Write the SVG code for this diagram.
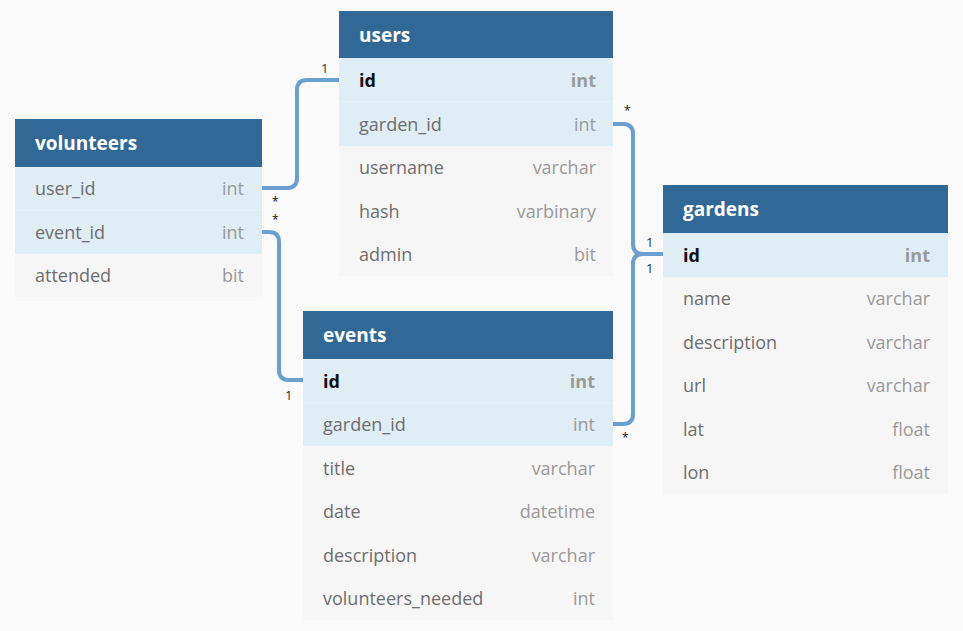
<svg xmlns="http://www.w3.org/2000/svg" width="963" height="631" viewBox="0 0 963 631">
<style>
.bg{fill:#fafafa}
.hd{fill:#316896}
.pk{fill:#dfedf5}
.rw{fill:#f6f6f6}
.sep{stroke:#eaf2f7;stroke-width:1}
.tt{font-family:"Open Sans","Noto Sans",sans-serif;font-size:19px;font-weight:bold;fill:#ffffff}
.fn{font-family:"Open Sans","Noto Sans",sans-serif;font-size:18px;fill:#6e6e6e}
.fnb{font-family:"Open Sans","Noto Sans",sans-serif;font-size:18px;font-weight:bold;fill:#111111}
.ty{font-family:"Open Sans","Noto Sans",sans-serif;font-size:18px;fill:#9a9a9a;text-anchor:end}
.tyb{font-family:"Open Sans","Noto Sans",sans-serif;font-size:18px;font-weight:bold;fill:#9a9a9a;text-anchor:end}
.cn{fill:none;stroke:#6a9fcf;stroke-width:4}
.lb{font-family:"Open Sans","Noto Sans",sans-serif;font-size:13px;fill:#1f2f3f}
.st{font-family:"Open Sans","Noto Sans",sans-serif;font-size:12px;fill:#111111}
</style>
<rect class="bg" x="0" y="0" width="963" height="631"/>

<g id="connectors">
<path class="cn" d="M262,188 H287 Q297,188 297,178 V90 Q297,80 307,80 H339"/>
<path class="cn" d="M262,232 H269 Q279,232 279,242 V370 Q279,380 289,380 H303"/>
<path class="cn" d="M613,124 H623 Q633,124 633,134 V244 Q633,254 643,254 H663"/>
<path class="cn" d="M612,424 H623 Q633,424 633,414 V264 Q633,254 643,254"/>
<text class="lb" x="321" y="73">1</text>
<text class="st" x="272" y="206">*</text>
<text class="st" x="272" y="224">*</text>
<text class="lb" x="285" y="400">1</text>
<text class="st" x="624" y="115">*</text>
<text class="lb" x="646" y="247">1</text>
<text class="lb" x="646" y="273">1</text>
<text class="st" x="622" y="442">*</text>
</g>

<g id="users">
<rect class="hd" x="339" y="11" width="274" height="47"/>
<text class="tt" x="359" y="42">users</text>
<rect class="pk" x="339" y="58" width="274" height="88"/>
<rect class="rw" x="339" y="146" width="274" height="130"/>
<line class="sep" x1="339" y1="102" x2="613" y2="102"/>
<text class="fnb" x="359" y="87">id</text><text class="tyb" x="596" y="87">int</text>
<text class="fn" x="359" y="131">garden_id</text><text class="ty" x="596" y="131">int</text>
<text class="fn" x="359" y="174">username</text><text class="ty" x="596" y="174">varchar</text>
<text class="fn" x="359" y="218">hash</text><text class="ty" x="596" y="218">varbinary</text>
<text class="fn" x="359" y="261">admin</text><text class="ty" x="596" y="261">bit</text>
</g>

<g id="volunteers">
<rect class="hd" x="15" y="119" width="247" height="48"/>
<text class="tt" x="35" y="150">volunteers</text>
<rect class="pk" x="15" y="167" width="247" height="87"/>
<rect class="rw" x="15" y="254" width="247" height="43"/>
<line class="sep" x1="15" y1="210" x2="262" y2="210"/>
<text class="fn" x="35" y="195">user_id</text><text class="ty" x="244" y="195">int</text>
<text class="fn" x="35" y="239">event_id</text><text class="ty" x="244" y="239">int</text>
<text class="fn" x="35" y="282">attended</text><text class="ty" x="244" y="282">bit</text>
</g>

<g id="gardens">
<rect class="hd" x="663" y="185" width="285" height="48"/>
<text class="tt" x="683" y="216">gardens</text>
<rect class="pk" x="663" y="233" width="285" height="44"/>
<rect class="rw" x="663" y="277" width="285" height="217"/>
<text class="fnb" x="683" y="262">id</text><text class="tyb" x="930" y="262">int</text>
<text class="fn" x="683" y="305">name</text><text class="ty" x="930" y="305">varchar</text>
<text class="fn" x="683" y="349">description</text><text class="ty" x="930" y="349">varchar</text>
<text class="fn" x="683" y="392">url</text><text class="ty" x="930" y="392">varchar</text>
<text class="fn" x="683" y="436">lat</text><text class="ty" x="930" y="436">float</text>
<text class="fn" x="683" y="479">lon</text><text class="ty" x="930" y="479">float</text>
</g>

<g id="events">
<rect class="hd" x="303" y="311" width="310" height="48"/>
<text class="tt" x="323" y="342">events</text>
<rect class="pk" x="303" y="359" width="310" height="87"/>
<rect class="rw" x="303" y="446" width="310" height="174"/>
<line class="sep" x1="303" y1="403" x2="613" y2="403"/>
<text class="fnb" x="323" y="388">id</text><text class="tyb" x="595" y="388">int</text>
<text class="fn" x="323" y="431">garden_id</text><text class="ty" x="595" y="431">int</text>
<text class="fn" x="323" y="475">title</text><text class="ty" x="595" y="475">varchar</text>
<text class="fn" x="323" y="518">date</text><text class="ty" x="595" y="518">datetime</text>
<text class="fn" x="323" y="562">description</text><text class="ty" x="595" y="562">varchar</text>
<text class="fn" x="323" y="605">volunteers_needed</text><text class="ty" x="595" y="605">int</text>
</g>
</svg>
